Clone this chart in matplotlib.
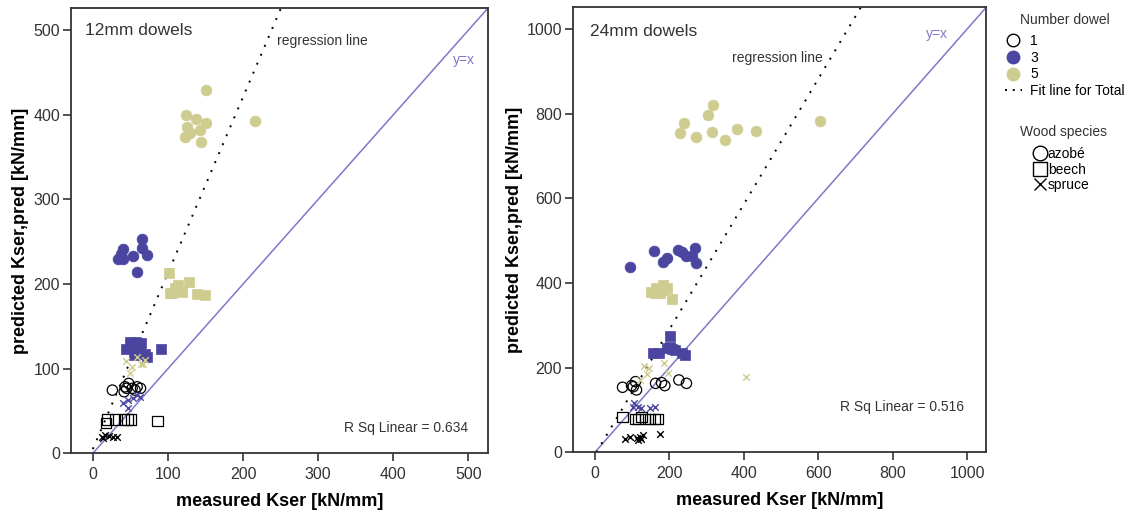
import numpy as np
import matplotlib.pyplot as plt
from matplotlib.lines import Line2D

plt.rcParams['font.family'] = ['Liberation Sans', 'DejaVu Sans']

BLUE = '#4b45a0'
KHAKI = '#cfcc8f'
DIAG = '#7f78c6'
INK = '#333333'

# ---- 12 mm dowels: (measured, predicted) ----
d12_n5_azobe_x = [150.5, 123.8, 137.5, 150.5, 125, 143, 129.6, 122.9, 144.2, 216]
d12_n5_azobe_y = [429, 400, 394.7, 390, 385, 382.5, 377.8, 373.4, 367.5, 392]
d12_n3_azobe_x = [65, 40, 64.8, 37.7, 53.3, 72.3, 34, 40.8, 59.4]
d12_n3_azobe_y = [252.7, 240.8, 243, 236, 233, 234.5, 229, 230, 214.4]
d12_n5_beech_x = [101.6, 114, 128.2, 106, 118.5, 138.5, 149.5, 110, 103]
d12_n5_beech_y = [213, 198.7, 202.6, 189, 190.8, 188, 186.5, 195, 189]
d12_n3_beech_x = [90.5, 44.3, 57.6, 64.3, 52, 69.6, 54.3, 63, 72, 49.5]
d12_n3_beech_y = [123, 122.8, 131.8, 129.8, 125, 116.9, 116, 120, 114, 131]
d12_n5_spruce_x = [44.4, 49.8, 52, 63.5, 69.6, 58.5, 67]
d12_n5_spruce_y = [109, 94.4, 102, 105, 110, 114, 106]
d12_n1_azobe_x = [26, 43, 47.8, 52.3, 59, 63.5, 41.7, 56.2, 45]
d12_n1_azobe_y = [74.7, 78.6, 82.6, 76.8, 78.6, 76.8, 72.8, 74.7, 76.8]
d12_n3_spruce_x = [40.8, 47.4, 54, 63, 47.4, 58.5]
d12_n3_spruce_y = [59, 63, 65, 67, 53, 69]
d12_n1_beech_x = [19.5, 29.7, 41.7, 46, 50.4, 86, 17.7]
d12_n1_beech_y = [40, 40, 40, 40, 40, 38.5, 36]
d12_n1_spruce_x = [12, 16.4, 21, 27.5, 31.9, 14]
d12_n1_spruce_y = [19.6, 21.6, 20.6, 19.6, 19.6, 17.6]

# ---- 24 mm dowels ----
d24_n5_azobe_x = [606, 318, 304, 239, 228, 271, 315, 350, 382, 434]
d24_n5_azobe_y = [782.5, 820, 796, 778, 754, 745, 756.5, 738, 765, 760]
d24_n3_azobe_x = [94, 160, 222, 235, 270, 195, 182, 246, 260, 273]
d24_n3_azobe_y = [439, 475, 478, 473, 482, 460, 449, 465, 464, 448]
d24_n5_beech_x = [152, 165.5, 182, 192.5, 174.6, 206, 161, 183.5]
d24_n5_beech_y = [380, 388, 396, 388, 376, 362, 376, 384]
d24_n3_beech_x = [203, 157, 173, 192.5, 206, 215, 233, 242, 201.5]
d24_n3_beech_y = [275, 235.6, 235.6, 246, 243.5, 242, 235.6, 230, 250]
d24_n5_spruce_x = [132.5, 146, 139, 185, 197, 407, 121]
d24_n5_spruce_y = [204, 200, 184, 210, 187, 179, 171]
d24_n1_azobe_x = [74.3, 98.5, 109, 111.8, 163, 179, 188, 225.6, 246, 103]
d24_n1_azobe_y = [153.7, 157.6, 167, 147.4, 163, 164.7, 157.6, 171, 163, 155]
d24_n3_spruce_x = [105, 116, 103, 148, 161, 125]
d24_n3_spruce_y = [116, 106, 106, 104, 108, 104]
d24_n1_beech_x = [74.3, 107.4, 125, 134, 148, 161, 170, 116]
d24_n1_beech_y = [82.7, 78, 84, 78, 78, 78, 78, 78]
d24_n1_spruce_x = [80.6, 94, 112, 121, 130, 125, 174.6, 116]
d24_n1_spruce_y = [30.7, 35.5, 33, 37, 41, 30.7, 43, 29]

# regression fits (slope, intercept) and R^2
fit12 = (2.08, 5.0)
fit24 = (1.48, -6.0)
r2_12 = 0.634
r2_24 = 0.516


def draw_group(ax, xs, ys, n, species):
    if species == 'spruce':
        col = {1: 'black', 3: BLUE, 5: KHAKI}[n]
        ax.scatter(xs, ys, marker='x', s=22, c=col, linewidths=1.0, zorder=3)
    else:
        m = 'o' if species == 'azobe' else 's'
        if n == 1:
            ax.scatter(xs, ys, marker=m, s=55, facecolors='none',
                       edgecolors='black', linewidths=0.9, zorder=3)
        else:
            col = BLUE if n == 3 else KHAKI
            ax.scatter(xs, ys, marker=m, s=60, c=col, edgecolors=col,
                       linewidths=0.5, zorder=3)


def style_axes(ax, lim_x, lim_y, ticks):
    ax.set_xlim(*lim_x)
    ax.set_ylim(*lim_y)
    ax.set_xticks(ticks)
    ax.set_yticks(ticks)
    for s in ax.spines.values():
        s.set_color(INK)
        s.set_linewidth(1.3)
    ax.tick_params(direction='out', length=6, width=1.2, color=INK,
                   labelsize=11.5, labelcolor=INK)
    ax.tick_params(axis='x', pad=4)
    ax.tick_params(axis='y', pad=2)
    ax.set_xlabel('measured Kser [kN/mm]', fontsize=13, fontweight='bold',
                  labelpad=8)
    ax.set_ylabel('predicted Kser,pred [kN/mm]', fontsize=13, fontweight='bold',
                  labelpad=3)


fig = plt.figure(figsize=(11.31, 5.14), dpi=100)
ax1 = fig.add_axes([0.0628, 0.118, 0.3687, 0.8664])
ax2 = fig.add_axes([0.5069, 0.12, 0.3646, 0.867])

g12 = [
    (d12_n5_azobe_x, d12_n5_azobe_y, 5, 'azobe'),
    (d12_n3_azobe_x, d12_n3_azobe_y, 3, 'azobe'),
    (d12_n1_azobe_x, d12_n1_azobe_y, 1, 'azobe'),
    (d12_n5_beech_x, d12_n5_beech_y, 5, 'beech'),
    (d12_n3_beech_x, d12_n3_beech_y, 3, 'beech'),
    (d12_n1_beech_x, d12_n1_beech_y, 1, 'beech'),
    (d12_n5_spruce_x, d12_n5_spruce_y, 5, 'spruce'),
    (d12_n3_spruce_x, d12_n3_spruce_y, 3, 'spruce'),
    (d12_n1_spruce_x, d12_n1_spruce_y, 1, 'spruce'),
]
g24 = [
    (d24_n5_azobe_x, d24_n5_azobe_y, 5, 'azobe'),
    (d24_n3_azobe_x, d24_n3_azobe_y, 3, 'azobe'),
    (d24_n1_azobe_x, d24_n1_azobe_y, 1, 'azobe'),
    (d24_n5_beech_x, d24_n5_beech_y, 5, 'beech'),
    (d24_n3_beech_x, d24_n3_beech_y, 3, 'beech'),
    (d24_n1_beech_x, d24_n1_beech_y, 1, 'beech'),
    (d24_n5_spruce_x, d24_n5_spruce_y, 5, 'spruce'),
    (d24_n3_spruce_x, d24_n3_spruce_y, 3, 'spruce'),
    (d24_n1_spruce_x, d24_n1_spruce_y, 1, 'spruce'),
]

# ax, groups, fit, r2, xlim, ylim, ticks, title, text anchors
panels = [
    (ax1, g12, fit12, r2_12, (-29, 526), (0, 526), [0, 100, 200, 300, 400, 500],
     '12mm dowels', (0.034, 0.95), (0.494, 0.926), (0.969, 0.883), (0.952, 0.057)),
    (ax2, g24, fit24, r2_24, (-58, 1050), (0, 1053), [0, 200, 400, 600, 800, 1000],
     '24mm dowels', (0.041, 0.945), (0.386, 0.885), (0.908, 0.938), (0.947, 0.102)),
]

for ax, groups, fit, r2, lx, ly, ticks, title, p_t, p_reg, p_yx, p_r2 in panels:
    for xs, ys, n, sp in groups:
        draw_group(ax, xs, ys, n, sp)
    top = ly[1]
    ax.plot([0, top], [0, top], color=DIAG, lw=1.1, zorder=2)
    k, b = fit
    x0 = max(0, -b / k)
    x1 = (top - b) / k
    ax.plot([x0, x1], [k * x0 + b, top], color='black', lw=1.4,
            linestyle=(0, (1, 4)), zorder=2)
    style_axes(ax, lx, ly, ticks)
    ax.text(*p_t, title, transform=ax.transAxes, fontsize=12.5,
            color=INK, va='center', ha='left')
    ax.text(*p_reg, 'regression line', transform=ax.transAxes, fontsize=10,
            color=INK, ha='left', va='center')
    ax.text(*p_yx, 'y=x', transform=ax.transAxes, fontsize=10,
            color=DIAG, ha='right', va='center')
    ax.text(*p_r2, f'R Sq Linear = {r2:.3f}', transform=ax.transAxes,
            fontsize=10, color=INK, ha='right', va='center')

# legends on the right
fig.text(0.9417, 0.961, 'Number dowel', fontsize=10, color=INK,
         ha='center', va='center')
h_num = [
    Line2D([], [], marker='o', ls='none', mfc='none', mec='black', ms=9, mew=1.0),
    Line2D([], [], marker='o', ls='none', mfc=BLUE, mec=BLUE, ms=9),
    Line2D([], [], marker='o', ls='none', mfc=KHAKI, mec=KHAKI, ms=9),
    Line2D([], [], color='black', lw=1.4, ls=(0, (1, 3))),
]
fig.legend(h_num, ['1', '3', '5', 'Fit line for Total'], loc='upper left',
           bbox_to_anchor=(0.8886, 0.934), frameon=False, fontsize=10,
           handlelength=1.2, handletextpad=0.6, labelspacing=0.2,
           borderaxespad=0, borderpad=0)

fig.text(0.9403, 0.744, 'Wood species', fontsize=10, color=INK,
         ha='center', va='center')
h_sp = [
    Line2D([], [], marker='o', ls='none', mfc='none', mec='black', ms=10.5, mew=1.0),
    Line2D([], [], marker='s', ls='none', mfc='none', mec='black', ms=10.5, mew=1.0),
    Line2D([], [], marker='x', ls='none', color='black', ms=8, mew=1.0),
]
fig.legend(h_sp, ['azobé', 'beech', 'spruce'], loc='upper left',
           bbox_to_anchor=(0.9147, 0.714), frameon=False, fontsize=10,
           handlelength=0.8, handletextpad=0.15, labelspacing=0.12,
           borderaxespad=0, borderpad=0)

fig.savefig('out.png', dpi=100)
